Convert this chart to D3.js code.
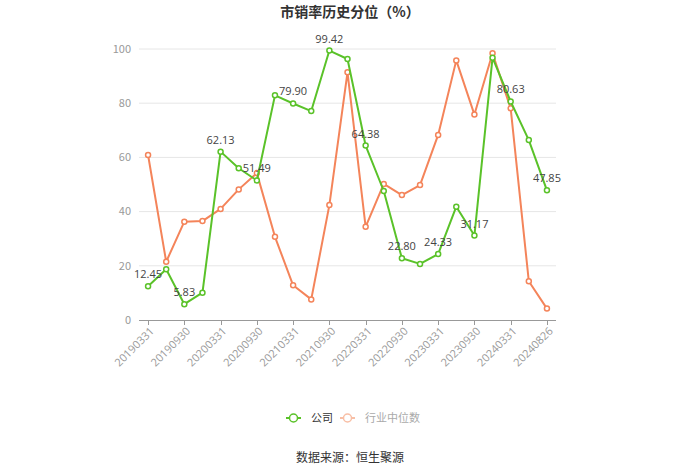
<!DOCTYPE html>
<html><head><meta charset="utf-8">
<script src="https://cdn.jsdelivr.net/npm/d3@7/dist/d3.min.js"></script>
<style>body{margin:0;background:#fff;font-family:"Noto Sans CJK SC","Microsoft YaHei",sans-serif;}</style>
</head><body><svg id="c" width="700" height="474"></svg>
<script>
const categories = ["20190331","20190630","20190930","20191231","20200331","20200630","20200930","20201231","20210331","20210630","20210930","20211231","20220331","20220630","20220930","20221231","20230331","20230630","20230930","20231231","20240331","20240630","20240826"];
const company = [12.45,18.7,5.83,10.1,62.13,56.0,51.49,82.9,79.90,77.1,99.42,96.3,64.38,47.6,22.80,20.7,24.33,41.8,31.17,96.8,80.63,66.4,47.85];
const industry = [60.9,21.5,36.3,36.5,41.0,48.2,54.2,30.7,12.8,7.6,42.4,91.4,34.4,50.2,46.1,49.8,68.3,95.8,75.8,98.4,78.1,14.3,4.2];
const yTicks = [0,20,40,60,80,100];
const labelIdx = [0,2,4,6,8,10,12,14,16,18,20,22];

const svg = d3.select("#c");
const x = d3.scaleBand().domain(categories).range([139,556]);
const cx = d => x(d) + x.bandwidth()/2;
const y = d3.scaleLinear().domain([0,100]).range([320,49]);

// grid
svg.append("g").selectAll("line").data(yTicks.filter(t=>t>0)).join("line")
  .attr("x1",139).attr("x2",556).attr("y1",d=>y(d)).attr("y2",d=>y(d))
  .attr("stroke","#e6e6e6").attr("stroke-width",1);

// y axis labels
svg.append("g").selectAll("text").data(yTicks).join("text")
  .attr("x",131).attr("y",d=>y(d)).attr("dy","0.35em").attr("text-anchor","end")
  .attr("font-size",11).attr("fill","#999").text(d=>d);

// x axis
svg.append("line").attr("x1",139).attr("x2",556).attr("y1",320.5).attr("y2",320.5).attr("stroke","#999");
const tickCats = categories.filter((c,i)=>i%2===0);
svg.append("g").selectAll("line").data(tickCats).join("line")
  .attr("x1",d=>Math.round(cx(d))+0.5).attr("x2",d=>Math.round(cx(d))+0.5).attr("y1",320).attr("y2",325).attr("stroke","#999");
svg.append("g").selectAll("text").data(tickCats).join("text")
  .attr("transform",d=>`translate(${cx(d)+4},${329}) rotate(-45)`)
  .attr("text-anchor","end").attr("dy","0.35em").attr("font-size",11).attr("fill","#999")
  .attr("font-family","'Open Sans',sans-serif").text(d=>d);

const line = d3.line().x((d,i)=>cx(categories[i])).y(d=>y(d));
function series(data,color){
  svg.append("path").datum(data).attr("d",line).attr("fill","none").attr("stroke",color).attr("stroke-width",2).attr("stroke-linejoin","round");
  svg.append("g").selectAll("circle").data(data).join("circle")
    .attr("cx",(d,i)=>cx(categories[i])).attr("cy",d=>y(d)).attr("r",2.5)
    .attr("fill","#fff").attr("stroke",color).attr("stroke-width",1.5);
}
series(industry,"#f4845a");
series(company,"#5ac229");

svg.append("g").selectAll("text").data(labelIdx).join("text")
  .attr("x",i=>cx(categories[i])).attr("y",i=>y(company[i])-8)
  .attr("text-anchor","middle").attr("font-size",11).attr("fill","#444")
  .attr("font-family","'Open Sans',sans-serif").text(i=>company[i].toFixed(2));

// title
svg.append("text").attr("x",350).attr("y",17).attr("text-anchor","middle")
  .attr("font-size",14).attr("font-weight","bold").attr("fill","#333").text("市销率历史分位（%）");

// legend
function legendItem(x0,color,textColor,label){
  const g = svg.append("g");
  g.append("line").attr("x1",x0).attr("x2",x0+15).attr("y1",418).attr("y2",418).attr("stroke",color).attr("stroke-width",2);
  g.append("circle").attr("cx",x0+7.5).attr("cy",418).attr("r",4).attr("fill","#fff").attr("stroke",color).attr("stroke-width",1.5);
  g.append("text").attr("x",x0+25).attr("y",418).attr("dy","0.35em").attr("font-size",11).attr("fill",textColor).text(label);
}
legendItem(286,"#5ac229","#333","公司");
legendItem(340,"#f8bfa6","#aaa","行业中位数");

svg.append("text").attr("x",350).attr("y",458).attr("dy","0.35em").attr("text-anchor","middle")
  .attr("font-size",12).attr("fill","#333").text("数据来源：恒生聚源");
</script></body></html>
